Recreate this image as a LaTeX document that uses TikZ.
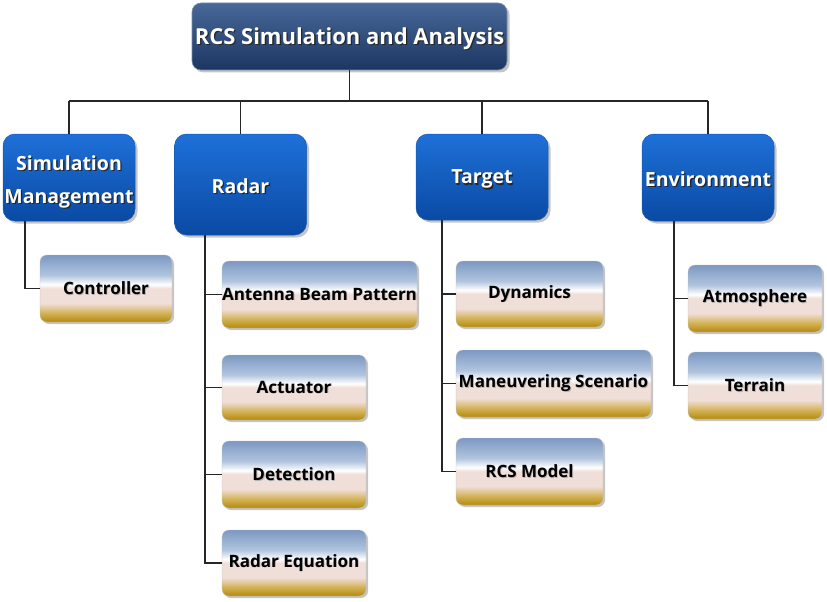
\documentclass[tikz,border=0pt]{standalone}
\usepackage{fontspec}
\setmainfont{Open Sans}
\usetikzlibrary{shadows}
\definecolor{goldA}{RGB}{180,138,8}
\definecolor{goldB}{RGB}{212,180,92}
\definecolor{pinkA}{RGB}{240,222,216}
\definecolor{blueG}{RGB}{124,152,194}
\definecolor{blueH}{RGB}{176,196,222}
\pgfdeclareverticalshading{goldbar}{100bp}{
  color(0bp)=(goldA); color(25bp)=(goldA); color(32bp)=(goldB);
  color(39bp)=(pinkA); color(50bp)=(pinkA); color(53bp)=(white);
  color(60bp)=(blueH); color(75bp)=(blueG); color(100bp)=(blueG)}
\newcommand\wsh[1]{\leavevmode\rlap{\raisebox{-1.3pt}{\kern1.3pt\textcolor{black!85}{#1}}}\textcolor{white}{#1}}
\newcommand\ksh[1]{\leavevmode\rlap{\raisebox{-0.8pt}{\kern0.8pt\textcolor{black!30}{#1}}}\textcolor{black}{#1}}
\newcommand\dn[2]{\raisebox{-#1}[\height][\depth]{#2}}
\tikzset{
  topbox/.style={rounded corners=9pt, minimum width=315pt, minimum height=67pt,
    top color={rgb,255:red,72;green,104;blue,152}, bottom color={rgb,255:red,28;green,54;blue,98},
    draw={rgb,255:red,120;green,140;blue,170}, line width=0.6pt,
    drop shadow={shadow xshift=2.5pt, shadow yshift=-2.5pt, fill=black!45},
    font=\bfseries\fontsize{22}{26}\selectfont, inner sep=0pt},
  bluebox/.style={rounded corners=12pt, minimum width=132pt,
    top color={rgb,255:red,30;green,112;blue,216}, bottom color={rgb,255:red,10;green,74;blue,164},
    draw={rgb,255:red,20;green,90;blue,180}, line width=0.5pt,
    drop shadow={shadow xshift=2.5pt, shadow yshift=-2.5pt, fill=black!45},
    font=\bfseries\fontsize{19.5}{33}\selectfont, inner sep=0pt},
  leafbox/.style={rounded corners=7pt, shading=goldbar, draw=black!25, line width=0.4pt,
    drop shadow={shadow xshift=2pt, shadow yshift=-2pt, fill=black!45},
    font=\bfseries\fontsize{17}{20}\selectfont, inner sep=0pt},
  conn/.style={draw=black!85, line width=1.6pt}
}
\begin{document}
\begin{tikzpicture}[x=1pt,y=-1pt]
\useasboundingbox (0,0) rectangle (827,602);
\coordinate (bus) at (0,101);
\coordinate (st) at (25,0);
\coordinate (rt) at (205,0);
\coordinate (tt) at (442,0);
\coordinate (et) at (674,0);
% nodes
\node[topbox] (top) at (349.5,36.5) {\dn{3pt}{\wsh{RCS Simulation and Analysis}}};
\node[bluebox, minimum height=87pt] (sim) at (69,177.5) {\dn{3pt}{\begin{tabular}{@{}c@{}}\wsh{Simulation}\\\wsh{Management}\end{tabular}}};
\node[bluebox, minimum height=101pt] (radar) at (240.5,184.5) {\dn{2pt}{\wsh{Radar}}};
\node[bluebox, minimum height=86pt] (target) at (482,177) {\dn{3pt}{\wsh{Target}}};
\node[bluebox, minimum height=87pt] (env) at (708,177.5) {\dn{2pt}{\wsh{Environment}}};
\node[leafbox, minimum width=132pt, minimum height=67pt] (ctrl) at (106,288.5) {\ksh{Controller}};
\node[leafbox, minimum width=195pt, minimum height=67pt] (ant) at (319.5,294.5) {\ksh{Antenna\ Beam\ Pattern}};
\node[leafbox, minimum width=144pt, minimum height=65pt] (act) at (294,387.5) {\ksh{Actuator}};
\node[leafbox, minimum width=144pt, minimum height=67pt] (det) at (294,474.5) {\ksh{Detection}};
\node[leafbox, minimum width=144pt, minimum height=66pt] (req) at (294,563) {\ksh{Radar\ Equation}};
\node[leafbox, minimum width=147pt, minimum height=66pt] (dyn) at (529.5,294) {\ksh{Dynamics}};
\node[leafbox, minimum width=195pt, minimum height=67pt] (man) at (553.5,383.5) {\ksh{Maneuvering\ Scenario}};
\node[leafbox, minimum width=147pt, minimum height=67pt] (rcs) at (529.5,471.5) {\ksh{RCS\ Model}};
\node[leafbox, minimum width=134pt, minimum height=67pt] (atm) at (755,298.5) {\ksh{Atmosphere}};
\node[leafbox, minimum width=134pt, minimum height=67pt] (ter) at (755,385.5) {\ksh{Terrain}};
% connectors
\draw[conn] (top.south) -- (top.south |- bus);
\draw[conn] (sim.north |- bus) -- (env.north |- bus);
\draw[conn] (sim.north |- bus) -- (sim.north);
\draw[conn] (radar.north |- bus) -- (radar.north);
\draw[conn] (target.north |- bus) -- (target.north);
\draw[conn] (env.north |- bus) -- (env.north);
\draw[conn] (st |- sim.south) |- (ctrl.west);
\draw[conn] (rt |- radar.south) |- (req.west);
\draw[conn] (rt |- ant.west) -- (ant.west);
\draw[conn] (rt |- act.west) -- (act.west);
\draw[conn] (rt |- det.west) -- (det.west);
\draw[conn] (tt |- target.south) |- (rcs.west);
\draw[conn] (tt |- dyn.west) -- (dyn.west);
\draw[conn] (tt |- man.west) -- (man.west);
\draw[conn] (et |- env.south) |- (ter.west);
\draw[conn] (et |- atm.west) -- (atm.west);
\end{tikzpicture}
\end{document}
